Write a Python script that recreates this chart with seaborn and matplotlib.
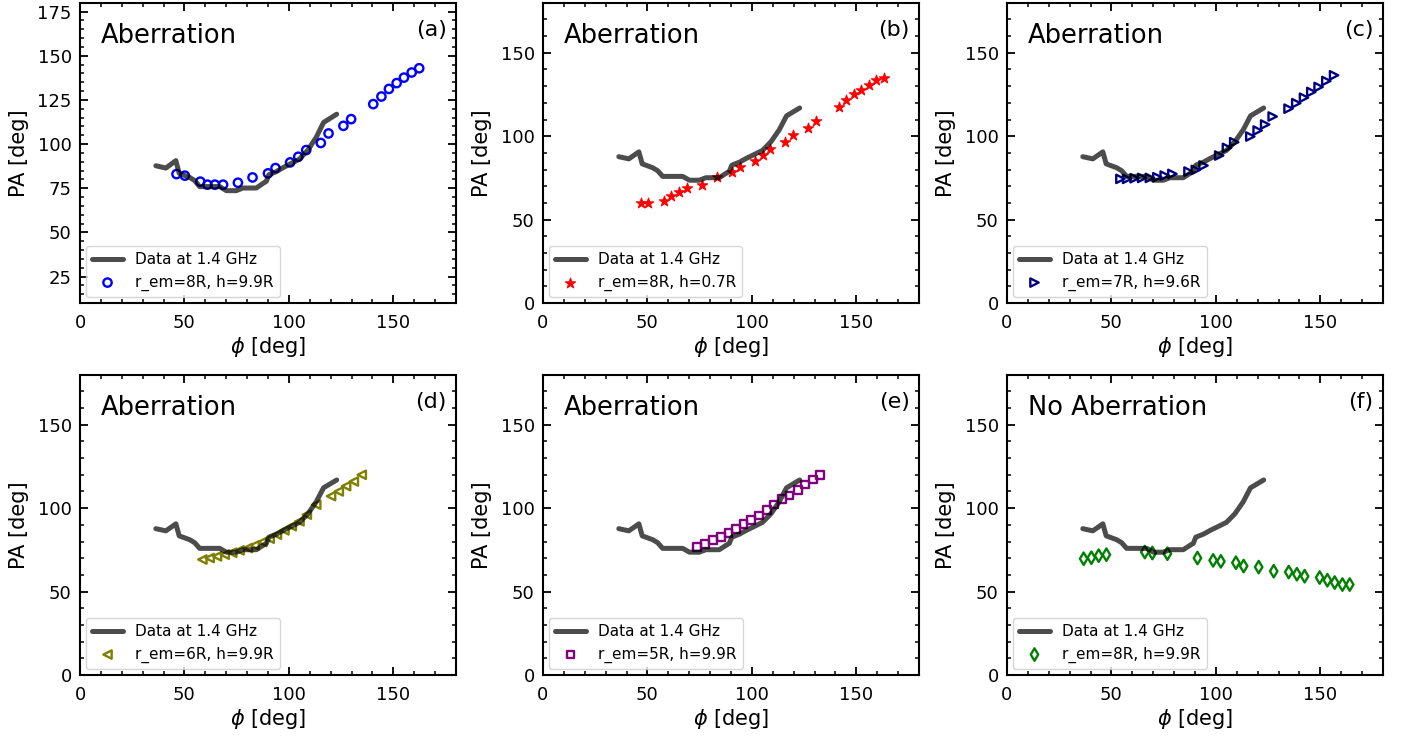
import matplotlib
matplotlib.use("Agg")
import matplotlib.pyplot as plt
from matplotlib.ticker import AutoMinorLocator, MultipleLocator
import seaborn as sns
import pandas as pd

# Observed position-angle swing at 1.4 GHz
phi_obs = [36.3, 41.1, 45.9, 47.5, 52.5, 54.9, 57.3, 66.9, 70.1, 74.8, 78.0, 84.4,
           87.6, 89.2, 90.4, 94.0, 97.5, 100.6, 105.1, 109.1, 113.1, 116.6, 122.9]
pa_obs = [87.7, 86.4, 90.6, 83.4, 81.1, 79.3, 75.9, 75.9, 73.6, 73.6, 75.1, 75.1,
          77.7, 78.9, 82.6, 84.4, 86.8, 88.7, 91.5, 96.6, 103.8, 112.2, 116.9]

# (a) r_em=8R, h=9.9R with aberration
phi_a = [46.2, 50.2, 57.6, 61.0, 64.6, 68.5, 75.6, 82.6, 90.0, 93.6, 100.6, 104.5,
         108.3, 115.3, 119.0, 126.1, 129.8, 140.4, 144.3, 147.9, 151.6, 155.1, 158.8, 162.4]
pa_a = [83.0, 82.1, 78.7, 77.0, 77.0, 77.0, 78.1, 81.1, 83.4, 86.4, 89.6, 92.8,
        96.6, 100.6, 106.0, 110.3, 114.1, 122.6, 126.9, 131.2, 134.5, 137.6, 140.5, 142.9]

# (b) r_em=8R, h=0.7R
phi_b = [46.8, 50.5, 57.7, 61.3, 65.2, 68.8, 76.2, 83.2, 90.6, 94.4, 101.6, 105.3,
         108.8, 116.0, 119.6, 126.7, 130.5, 141.5, 145.0, 148.7, 152.2, 156.1, 159.6, 163.1]
pa_b = [59.7, 59.7, 61.3, 64.3, 66.7, 69.0, 71.0, 75.8, 78.4, 81.4, 85.4, 88.8,
        92.4, 96.8, 101.0, 105.0, 109.4, 117.4, 121.9, 125.1, 127.9, 130.7, 133.5, 135.1]

# (c) r_em=7R, h=9.6R
phi_c = [54.3, 57.5, 61.1, 64.7, 68.4, 72.0, 75.5, 79.2, 86.9, 90.4, 94.1, 101.6,
         105.3, 108.8, 116.5, 120.0, 123.6, 127.2, 134.8, 138.5, 142.2, 145.7, 149.2, 152.9, 156.6]
pa_c = [74.4, 74.4, 74.8, 75.0, 75.0, 75.4, 76.4, 77.4, 78.8, 79.8, 82.4, 88.4,
        93.0, 96.4, 99.8, 103.4, 107.0, 111.8, 116.5, 119.8, 123.1, 126.5, 129.5, 133.1, 136.5]

# (d) r_em=6R, h=9.9R
phi_d = [58.6, 62.1, 65.6, 69.3, 72.9, 76.4, 80.4, 83.6, 87.3, 90.8, 94.3, 97.9,
         101.4, 105.1, 108.6, 113.1, 120.2, 123.9, 127.4, 131.1, 134.9]
pa_d = [69.2, 70.1, 71.1, 72.1, 73.3, 74.7, 76.1, 77.7, 79.7, 81.7, 84.1, 86.7,
        89.2, 92.1, 96.1, 102.1, 107.2, 110.0, 113.2, 116.0, 120.0]

# (e) r_em=5R, h=9.9R
phi_e = [73.9, 77.6, 81.3, 85.1, 88.8, 92.5, 96.0, 99.7, 103.5, 107.2, 110.7, 114.4,
         118.0, 121.9, 125.5, 129.2, 132.7]
pa_e = [76.7, 78.7, 81.1, 82.7, 85.1, 87.7, 90.3, 93.1, 95.6, 99.0, 102.2, 105.6,
        107.6, 111.0, 114.2, 117.2, 120.1]

# (f) r_em=8R, h=9.9R without aberration
phi_f = [36.7, 40.4, 43.9, 47.6, 66.0, 69.6, 76.8, 91.2, 98.7, 102.4, 109.6, 113.3,
         120.5, 127.7, 134.9, 138.8, 142.5, 149.7, 153.4, 156.9, 160.6, 164.1]
pa_f = [69.7, 70.3, 71.5, 72.1, 73.7, 73.1, 72.7, 70.1, 68.7, 68.1, 67.3, 65.3,
        64.7, 62.2, 61.7, 60.4, 59.2, 58.4, 56.8, 55.4, 54.2, 54.2]

panel_tags = ["(a)", "(b)", "(c)", "(d)", "(e)", "(f)"]
panel_titles = ["Aberration"] * 5 + ["No Aberration"]
model_labels = ["r_em=8R, h=9.9R", "r_em=8R, h=0.7R", "r_em=7R, h=9.6R",
                "r_em=6R, h=9.9R", "r_em=5R, h=9.9R", "r_em=8R, h=9.9R"]
model_phi = [phi_a, phi_b, phi_c, phi_d, phi_e, phi_f]
model_pa = [pa_a, pa_b, pa_c, pa_d, pa_e, pa_f]

styles = [
    dict(marker="o", facecolor="none", edgecolor="blue", s=36, linewidth=1.7),
    dict(marker="*", facecolor="red", edgecolor="red", s=60, linewidth=0.8),
    dict(marker=">", facecolor="none", edgecolor="navy", s=36, linewidth=1.7),
    dict(marker="<", facecolor="none", edgecolor="olive", s=36, linewidth=1.7),
    dict(marker="s", facecolor="none", edgecolor="purple", s=32, linewidth=1.7),
    dict(marker="d", facecolor="none", edgecolor="green", s=40, linewidth=1.7),
]

sns.set_style("ticks")
plt.rcParams.update({
    "font.family": ["DejaVu Sans"],
    "text.color": "black", "axes.labelcolor": "black",
    "xtick.color": "black", "ytick.color": "black",
    "axes.edgecolor": "black",
    "xtick.direction": "in", "ytick.direction": "in",
    "xtick.top": True, "ytick.right": True,
    "xtick.major.size": 5.5, "ytick.major.size": 5.5,
    "xtick.minor.size": 3, "ytick.minor.size": 3,
    "xtick.major.width": 1.3, "ytick.major.width": 1.3,
    "xtick.minor.width": 1.1, "ytick.minor.width": 1.1,
    "xtick.major.pad": 8, "ytick.major.pad": 6,
    "axes.linewidth": 1.5,
    "xtick.labelsize": 13, "ytick.labelsize": 13,
    "axes.labelsize": 15,
})

fig = plt.figure(figsize=(14.06, 7.36), dpi=100)
lefts = [0.0569, 0.3862, 0.7162]
bottoms = [0.5883, 0.0829]
w, h = 0.2674, 0.408

obs = pd.DataFrame({"phi": phi_obs, "pa": pa_obs})

for i in range(6):
    row, col = divmod(i, 3)
    ax = fig.add_axes([lefts[col], bottoms[row], w, h])
    df = pd.DataFrame({"phi": model_phi[i], "pa": model_pa[i]})
    sns.scatterplot(data=df, x="phi", y="pa", ax=ax, label=model_labels[i],
                    zorder=2, **styles[i])
    sns.lineplot(data=obs, x="phi", y="pa", ax=ax, color="k", alpha=0.7,
                 linewidth=3.6, sort=False, estimator=None,
                 label="Data at 1.4 GHz", zorder=3)

    ax.set_xlim(0, 180)
    if i == 0:
        ax.set_ylim(10, 180)
        ax.yaxis.set_major_locator(MultipleLocator(25))
    else:
        ax.set_ylim(0, 180)
        ax.yaxis.set_major_locator(MultipleLocator(50))
    ax.xaxis.set_major_locator(MultipleLocator(50))
    ax.xaxis.set_minor_locator(AutoMinorLocator(5))
    ax.yaxis.set_minor_locator(AutoMinorLocator(5))
    ax.tick_params(which="both", top=True, right=True, direction="in")

    ax.set_xlabel(r"$\phi$ [deg]", labelpad=2)
    ax.set_ylabel("PA [deg]", labelpad=6)

    ax.text(0.055, 0.89, panel_titles[i], transform=ax.transAxes,
            fontsize=18.5, ha="left", va="center")
    ax.text(0.975, 0.91, panel_tags[i], transform=ax.transAxes,
            fontsize=16, ha="right", va="center")

    handles, labels = ax.get_legend_handles_labels()
    ax.legend(handles[::-1], labels[::-1], loc="lower left", fontsize=11,
              borderaxespad=0.4)

fig.savefig("out.png", dpi=100)
